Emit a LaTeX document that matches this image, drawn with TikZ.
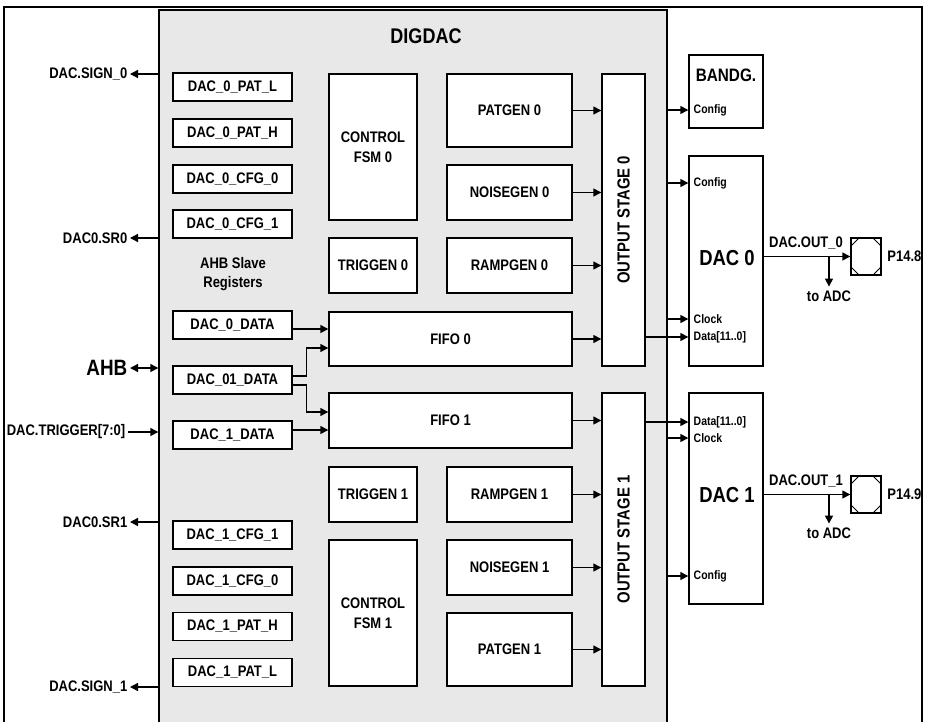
\documentclass[tikz,border=0pt]{standalone}
\usepackage{fontspec}
\setmainfont{Liberation Sans}[FakeStretch=0.85]
\usetikzlibrary{arrows.meta,positioning}

\begin{document}
\begin{tikzpicture}[
    x=1pt, y=-1pt,
    >={Triangle[length=8pt,width=8pt]},
    line width=1.4pt,
    font=\fontsize{15.3}{19.5}\selectfont\bfseries,
    box/.style={draw=black, fill=white, inner sep=0pt, align=center},
    reg/.style={box, minimum width=119pt, minimum height=28pt},
    unit/.style={box, minimum width=125pt, minimum height=55pt},
    fsm/.style={box, minimum width=88pt, minimum height=146pt},
    trig/.style={box, minimum width=88pt, minimum height=55pt},
    fifo/.style={box, minimum width=243pt, minimum height=54pt},
    stage/.style={box, minimum width=43pt, minimum height=292pt},
    port/.style={font=\fontsize{12.3}{14}\selectfont\bfseries, anchor=west, inner sep=1pt},
    sig/.style={anchor=east, inner sep=2pt},
    pin/.style={draw, fill=white, minimum width=30pt, minimum height=37pt, inner sep=0pt,
        path picture={
            \draw[line width=0.9pt] ([yshift=-8pt]path picture bounding box.north west) -- ([xshift=8pt]path picture bounding box.north west);
            \draw[line width=0.9pt] ([yshift=-8pt]path picture bounding box.north east) -- ([xshift=-8pt]path picture bounding box.north east);
            \draw[line width=0.9pt] ([yshift=8pt]path picture bounding box.south west) -- ([xshift=8pt]path picture bounding box.south west);
            \draw[line width=0.9pt] ([yshift=8pt]path picture bounding box.south east) -- ([xshift=-8pt]path picture bounding box.south east);
        }}
]
    \useasboundingbox (0,0) rectangle (927,721);
    \draw[line width=2.2pt] (4,7) rectangle (922,740);

    % digital part
    \node[draw, fill=gray!18, minimum width=508pt, minimum height=730pt, inner sep=0pt] (digdac) at (413,375) {};
    \node[font=\fontsize{21.2}{24}\selectfont\bfseries] (title) at (426,36) {DIGDAC};

    % AHB slave registers
    \node[reg] (r0patl) at (232.5,87) {DAC\_0\_PAT\_L};
    \node[reg] (r0path) at (232.5,133) {DAC\_0\_PAT\_H};
    \node[reg] (r0cfg0) at (232.5,179) {DAC\_0\_CFG\_0};
    \node[reg] (r0cfg1) at (232.5,224) {DAC\_0\_CFG\_1};
    \node[align=center] (regs) at (233,274) {AHB Slave\\Registers};
    \node[reg] (r0data) at (232.5,325) {DAC\_0\_DATA};
    \node[reg] (r01data) at (232.5,380) {DAC\_01\_DATA};
    \node[reg] (r1data) at (232.5,435) {DAC\_1\_DATA};
    \node[reg] (r1cfg1) at (232.5,535) {DAC\_1\_CFG\_1};
    \node[reg] (r1cfg0) at (232.5,581) {DAC\_1\_CFG\_0};
    \node[reg] (r1path) at (232.5,626.5) {DAC\_1\_PAT\_H};
    \node[reg] (r1patl) at (232.5,672.5) {DAC\_1\_PAT\_L};

    % channel 0
    \node[fsm] (fsm0) at (373,147) {CONTROL\\FSM 0};
    \node[unit, minimum height=73pt] (pat0) at (509.5,110.5) {PATGEN 0};
    \node[unit] (noise0) at (509.5,192.5) {NOISEGEN 0};
    \node[trig] (trig0) at (373,265.5) {TRIGGEN 0};
    \node[unit] (ramp0) at (509.5,265.5) {RAMPGEN 0};
    \node[fifo] (fifo0) at (450.5,339) {FIFO 0};
    \node[stage, label={[rotate=90, font=\fontsize{17.5}{20}\selectfont\bfseries]center:OUTPUT STAGE 0}] (os0) at (623.5,220) {};

    % channel 1
    \node[fifo, minimum height=55pt] (fifo1) at (450.5,420.5) {FIFO 1};
    \node[trig] (trig1) at (373,494.5) {TRIGGEN 1};
    \node[unit] (ramp1) at (509.5,494.5) {RAMPGEN 1};
    \node[unit] (noise1) at (509.5,567.5) {NOISEGEN 1};
    \node[unit, minimum height=73pt] (pat1) at (509.5,649.5) {PATGEN 1};
    \node[fsm] (fsm1) at (373,613) {CONTROL\\FSM 1};
    \node[stage, minimum height=293pt, label={[rotate=90, font=\fontsize{17.5}{20}\selectfont\bfseries]center:OUTPUT STAGE 1}] (os1) at (623.5,539.5) {};

    \foreach \src/\dst in {pat0/os0, noise0/os0, ramp0/os0, fifo0/os0, fifo1/os1, ramp1/os1, noise1/os1, pat1/os1}
        \draw[->] (\src.east) -- (\src.east -| \dst.west);

    \draw[->] ([yshift=-4pt]r0data.east) -- ([yshift=-4pt]r0data.east -| fifo0.west);
    \draw[->] ([yshift=4pt]r01data.east) -- ++(14,0) |- ([yshift=-9pt]fifo0.west);
    \draw[->] ([yshift=-5pt]r01data.east) -- ++(14,0) |- ([yshift=8.5pt]fifo1.west);
    \draw[->] ([yshift=5pt]r1data.east) -- ([yshift=5pt]r1data.east -| fifo1.west);

    % external signals
    \node[sig] (sign0) at (130,74) {DAC.SIGN\_0};
    \node[sig] (sr0) at (130,238) {DAC0.SR0};
    \node[sig, font=\fontsize{22.2}{24}\selectfont\bfseries] (ahb) at (130,368) {AHB};
    \node[sig] (trigin) at (128,432) {DAC.TRIGGER[7:0]};
    \node[sig] (sr1) at (130,522) {DAC0.SR1};
    \node[sig] (sign1) at (130,687) {DAC.SIGN\_1};
    \foreach \s in {sign0, sr0, sr1, sign1}
        \draw[->] (\s -| digdac.west) -- (\s.east);
    \draw[<->] (ahb.east) -- (ahb -| digdac.west);
    \draw[->] (trigin.east) -- (trigin -| digdac.west);

    % analog part
    \node[box, minimum width=74pt, minimum height=73pt] (bandg) at (726,91.5) {};
    \node[font=\fontsize{18}{20}\selectfont\bfseries] (bandgname) at (726,75) {BANDG.};
    \node[port] (bcfg) at (692,110) {Config};

    \node[box, minimum width=74pt, minimum height=210pt] (dac0) at (726,261) {};
    \node[font=\fontsize{21.7}{24}\selectfont\bfseries] (dac0name) at (727,258) {DAC 0};
    \node[port] (cfg0) at (692,183) {Config};
    \node[port] (clk0) at (692,319) {Clock};
    \node[port] (dat0) at (692,337) {Data[11..0]};

    \node[box, minimum width=74pt, minimum height=211pt] (dac1) at (726,498.5) {};
    \node[font=\fontsize{21.7}{24}\selectfont\bfseries] (dac1name) at (727,495) {DAC 1};
    \node[port] (dat1) at (692,422) {Data[11..0]};
    \node[port] (clk1) at (692,438) {Clock};
    \node[port] (cfg1) at (692,576) {Config};

    \draw[->] (bcfg -| digdac.east) -- (bcfg -| bandg.west);
    \foreach \p/\d in {cfg0/dac0, clk0/dac0, clk1/dac1, cfg1/dac1}
        \draw[->] (\p -| digdac.east) -- (\p -| \d.west);
    \draw[->] (dat0 -| os0.east) -- (dat0 -| dac0.west);
    \draw[->] (dat1 -| os1.east) -- (dat1 -| dac1.west);

    % pins
    \node[pin] (pin0) at (866,256.5) {};
    \node[anchor=west, inner sep=0pt, xshift=5pt] (p0name) at (pin0.east) {P14.8};
    \node (out0) at (806,243) {DAC.OUT\_0};
    \node (adc0) at (829,296) {to ADC};
    \draw[->] (dac0.east |- pin0) -- (pin0.west);
    \draw[->] (adc0 |- pin0) -- (adc0.north);

    \node[pin] (pin1) at (866,494.5) {};
    \node[anchor=west, inner sep=0pt, xshift=5pt] (p1name) at (pin1.east) {P14.9};
    \node (out1) at (806,481) {DAC.OUT\_1};
    \node (adc1) at (829,533) {to ADC};
    \draw[->] (dac1.east |- pin1) -- (pin1.west);
    \draw[->] (adc1 |- pin1) -- (adc1.north);
\end{tikzpicture}
\end{document}
